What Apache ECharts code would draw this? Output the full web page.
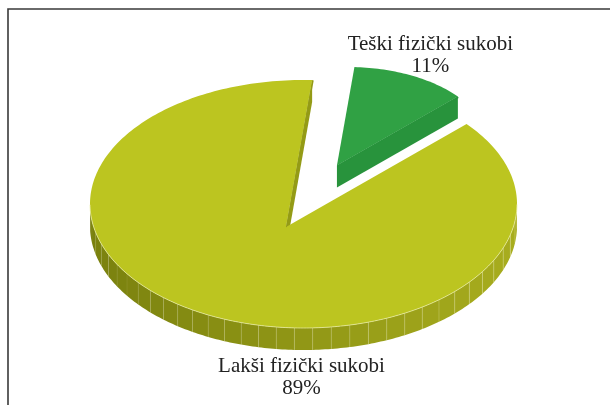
<!DOCTYPE html>
<html>
<head>
<meta charset="utf-8">
<script src="https://cdn.jsdelivr.net/npm/echarts@6/dist/echarts.min.js"></script>
<style>
html,body{margin:0;padding:0;background:#fff}
#main{width:610px;height:405px}
</style>
</head>
<body>
<div id="main"></div>
<script>
// data
var categories = ['Lakši fizički sukobi', 'Teški fizički sukobi'];
var values = [89, 11];

// look
var topColors = ['#bcc520', '#30a144'];
var cutColors = ['#949b16', '#28933c'];
var explode = [0, 0.55];     // fraction of radius
var shrink = [1, 0.67];      // excel draws the pulled-out slice smaller
var startDeg = -44.5;

// ellipse of the top face, and the drawn pie centre (perspective puts it low-left)
var cx = 303.5, cy = 204, rx = 213.5, ry = 124;
var apexX = 286, apexY = 227;
var depth = 22;

function rimPoint(deg){
	var t = deg*Math.PI/180;
	var vx = Math.cos(t), vy = Math.sin(t);
	var ux = (apexX-cx)/rx, uy = (apexY-cy)/ry;
	var b = ux*vx+uy*vy;
	var k = -b + Math.sqrt(b*b - (ux*ux+uy*uy) + 1);
	return [cx + rx*(ux+k*vx), cy + ry*(uy+k*vy)];
}

function wallColor(f){
	// f: 0 = left edge, 1 = right edge
	var a = [122,129,14], b = [168,173,30];
	var c = [];
	for(var j=0;j<3;j++) c.push(Math.round(a[j]+(b[j]-a[j])*f));
	return 'rgb('+c.join(',')+')';
}

function renderItem(params, api){
	var i = params.dataIndex;
	var total = 0, before = 0;
	for(var n=0;n<values.length;n++){
		total += values[n];
		if(n<i) before += values[n];
	}
	var a0 = startDeg + 360*before/total;
	var a1 = a0 + 360*values[i]/total;
	var mid = (a0+a1)/2*Math.PI/180;
	var s = shrink[i];
	var ax = apexX + explode[i]*rx*Math.cos(mid);
	var ay = apexY + explode[i]*ry*Math.sin(mid);
	var ecx = ax + s*(cx-apexX), ecy = ay + s*(cy-apexY);

	var pts = [];
	var steps = Math.max(2, Math.ceil(a1-a0));
	for(var k=0;k<=steps;k++){
		var p = rimPoint(a0+(a1-a0)*k/steps);
		pts.push([ax + s*(p[0]-apexX), ay + s*(p[1]-apexY)]);
	}

	var children = [];

	// outer wall, front part only, in 6 degree panels
	var panel = [], seps = [], rim = [];
	function flush(){
		if(panel.length<2) { panel = []; return; }
		var poly = panel.slice();
		for(var m=panel.length-1;m>=0;m--) poly.push([panel[m][0], panel[m][1]+depth]);
		var mx = (panel[0][0]+panel[panel.length-1][0])/2;
		children.push({type:'polygon', shape:{points:poly},
			style:{fill:wallColor((mx-(ecx-s*rx))/(2*s*rx)), stroke:null}});
		panel = [];
	}
	for(var k=0;k<pts.length;k++){
		var front = pts[k][1] >= ecy-0.5;
		if(front){
			panel.push(pts[k]);
			rim.push(pts[k]);
			if(panel.length>1 && k%6==0){
				var last = pts[k];
				flush();
				panel.push(last);
				seps.push(last);
			}
		} else {
			flush();
		}
	}
	flush();
	seps.forEach(function(p){
		var f = (p[0]-(ecx-s*rx))/(2*s*rx);
		children.push({type:'line', shape:{x1:p[0],y1:p[1],x2:p[0],y2:p[1]+depth},
			style:{stroke:'rgba(255,255,220,'+(0.08+0.22*f).toFixed(2)+')', lineWidth:0.8}});
	});

	// cut faces that look towards the viewer
	var edges = [];
	var e0 = [pts[0][0]-ax, pts[0][1]-ay];
	if(-e0[0] > 0) edges.push({q:pts[0], nx:e0[1], ny:-e0[0]});
	var q1 = pts[pts.length-1];
	var e1 = [q1[0]-ax, q1[1]-ay];
	if(e1[0] > 0) edges.push({q:q1, nx:-e1[1], ny:e1[0]});
	edges.forEach(function(ed){
		children.push({type:'polygon', shape:{points:[[ax,ay],ed.q,[ed.q[0],ed.q[1]+depth],[ax,ay+depth]]},
			style:{fill:cutColors[i]}});
	});

	// top face
	var top = [[ax,ay]].concat(pts);
	children.push({type:'polygon', shape:{points:top}, style:{fill:topColors[i]}});

	// thin visible strip along cut edges
	edges.forEach(function(ed){
		var len = Math.sqrt(ed.nx*ed.nx+ed.ny*ed.ny);
		var ox = 0.8*ed.nx/len, oy = 0.8*ed.ny/len;
		children.push({type:'polygon', shape:{points:[[ax,ay],ed.q,[ed.q[0]+2*ox,ed.q[1]+2*oy],[ax+ox,ay+oy]]},
			style:{fill:cutColors[i]}});
	});

	if(rim.length>1){
		children.push({type:'polyline', shape:{points:rim},
			style:{stroke:'rgba(235,238,170,0.7)', lineWidth:1, fill:null}});
	}

	// label
	var lx, ly;
	if(i==0){ lx = cx-2; ly = cy+ry+depth+27.5; }
	else { lx = cx+0.594*rx; ly = cy-ry-25; }
	children.push({type:'text', style:{
		text: categories[i]+'\n'+values[i]+'%',
		x: lx, y: ly, align:'center', verticalAlign:'middle',
		fontFamily:'"Liberation Serif", serif', fontSize:21, lineHeight:22, fill:'#222'
	}});

	return {type:'group', children:children};
}

var myChart = echarts.init(document.getElementById('main'));
var data = [];
for(var i=0;i<values.length;i++) data.push({name:categories[i], value:values[i]});

var option = {
	backgroundColor: '#fff',
	animation: false,
	graphic: [{
		type:'rect', shape:{x:8, y:9, width:700, height:500},
		style:{fill:null, stroke:'#3a3a3a', lineWidth:1.6}, silent:true
	}],
	series: [{
		type:'custom',
		coordinateSystem:'none',
		renderItem: renderItem,
		silent:true,
		data: data
	}]
};
myChart.setOption(option);
</script>
</body>
</html>
